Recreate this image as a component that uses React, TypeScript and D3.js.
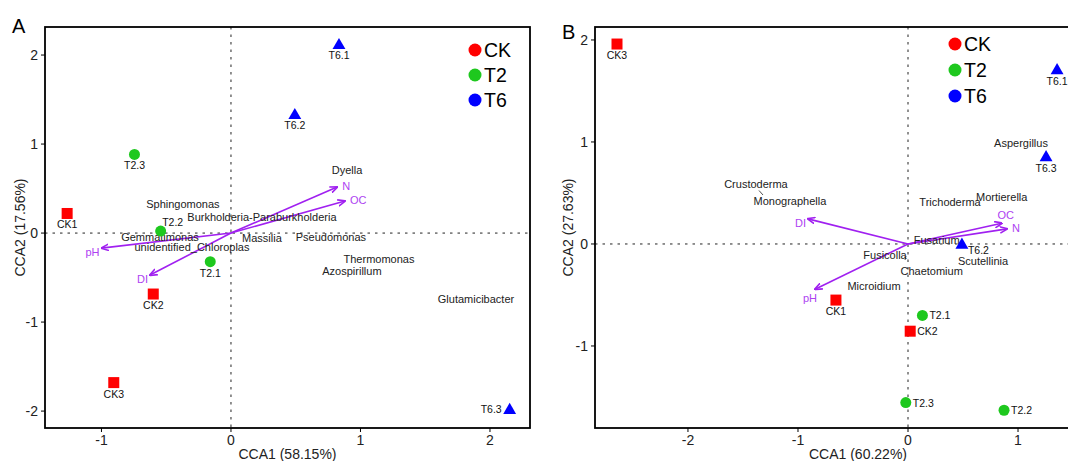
import React from "react"
import * as d3 from "d3"

// groups / legend
const groupNames = ["CK", "T2", "T6"]
const groupColors = ["#ff0000", "#1ec81e", "#0000ff"]
const groupShapes = ["square", "circle", "triangle"]

// panel A (bacteria)
const sampleNamesA = ["CK1", "CK2", "CK3", "T2.1", "T2.2", "T2.3", "T6.1", "T6.2", "T6.3"]
const sampleXA = [-1.265, -0.6, -0.905, -0.16, -0.543, -0.745, 0.834, 0.493, 2.152]
const sampleYA = [0.22, -0.685, -1.68, -0.322, 0.022, 0.884, 2.12, 1.334, -1.98]
const labelSideA = ["below", "below", "below", "below", "aboveRight", "below", "below", "below", "left"]

const speciesNamesA = ["Dyella", "Sphingomonas", "Burkholderia-Paraburkholderia", "Gemmatimonas",
  "unidentified_Chloroplas", "Massilia", "Pseudomonas", "Thermomonas", "Azospirillum", "Glutamicibacter"]
const speciesXA = [0.896, -0.371, 0.239, -0.548, -0.301, 0.239, 0.772, 1.143, 0.934, 1.892]
const speciesYA = [0.708, 0.326, 0.18, -0.045, -0.157, -0.056, -0.045, -0.292, -0.427, -0.742]

const envNamesA = ["N", "OC", "pH", "DI"]
const envXA = [0.82, 0.88, -1.0, -0.625]
const envYA = [0.517, 0.36, -0.169, -0.472]
const envSideA = ["right", "right", "left", "left"]

// panel B (fungi)
const sampleNamesB = ["CK1", "CK2", "CK3", "T2.1", "T2.2", "T2.3", "T6.1", "T6.2", "T6.3"]
const sampleXB = [-0.655, 0.02, -2.645, 0.131, 0.873, -0.02, 1.355, 0.49, 1.255]
const sampleYB = [-0.55, -0.855, 1.96, -0.70, -1.63, -1.555, 1.71, 0.0, 0.857]
const labelSideB = ["below", "right", "below", "right", "right", "right", "below", "belowRight", "below"]

const speciesNamesB = ["Crustoderma", "Monographella", "Trichoderma", "Mortierella", "Fusarium",
  "Fusicolla", "Scutellinia", "Chaetomium", "Microidium", "Aspergillus"]
const speciesXB = [-1.382, -1.073, 0.382, 0.852, 0.261, -0.209, 0.682, 0.215, -0.309, 1.027]
const speciesYB = [0.591, 0.417, 0.414, 0.46, 0.039, -0.108, -0.167, -0.263, -0.414, 0.992]

const envNamesB = ["DI", "pH", "OC", "N"]
const envXB = [-0.909, -0.845, 0.852, 0.9]
const envYB = [0.246, -0.443, 0.204, 0.148]
const envSideB = ["left", "belowLeft", "above", "right"]

const ticksA_x = [-1, 0, 1, 2]
const ticksA_y = [-2, -1, 0, 1, 2]
const ticksB_x = [-2, -1, 0, 1]
const ticksB_y = [-1, 0, 1, 2]

const font = "'Liberation Sans', Arial, sans-serif"
const purple = "#a020f0"

function groupOf(name) {
  if (name.startsWith("CK")) return 0
  if (name.startsWith("T2")) return 1
  return 2
}

function Marker({ x, y, g }) {
  const c = groupColors[g]
  if (groupShapes[g] === "square") return <rect x={x - 5.5} y={y - 5.5} width={11} height={11} fill={c} />
  if (groupShapes[g] === "circle") return <circle cx={x} cy={y} r={5.5} fill={c} />
  const tri = d3.symbol().type(d3.symbolTriangle).size(72)()
  return <path d={tri} transform={`translate(${x},${y + 1})`} fill={c} />
}

function sampleLabel(side, px, py, text, i) {
  let x = px, y = py, anchor = "middle"
  if (side === "below") { y = py + 15 }
  else if (side === "aboveRight") { x = px + 12; y = py - 5 }
  else if (side === "left") { x = px - 8; y = py + 4; anchor = "end" }
  else if (side === "right") { x = px + 7; y = py + 4; anchor = "start" }
  else if (side === "belowRight") { x = px + 6; y = py + 10; anchor = "start" }
  return <text key={"sl" + i} x={x} y={y} textAnchor={anchor} fontSize={10.5} fill="#111">{text}</text>
}

function envLabel(side, px, py, text, i) {
  let x = px, y = py, anchor = "start"
  if (side === "right") { x = px + 5; y = py + 3 }
  else if (side === "left") { x = px - 2; y = py + 8; anchor = "end" }
  else if (side === "belowLeft") { x = px - 5; y = py + 13; anchor = "middle" }
  else if (side === "above") { x = px + 4; y = py - 4; anchor = "middle" }
  return <text key={"el" + i} x={x} y={y} textAnchor={anchor} fontSize={11} fill={purple} style={{ opacity: 0.85 }}>{text}</text>
}

function Panel(p) {
  const x = d3.scaleLinear().domain(p.xDomain).range([p.left, p.right])
  const y = d3.scaleLinear().domain(p.yDomain).range([p.bottom, p.top])
  const clipId = "clip" + p.letter
  const markerId = "arr" + p.letter
  const midX = (p.left + p.right) / 2
  const midY = (p.top + p.bottom) / 2
  return (
    <g fontFamily={font}>
      <defs>
        <clipPath id={clipId}>
          <rect x={p.left} y={p.top} width={p.right - p.left} height={p.bottom - p.top} />
        </clipPath>
        <marker id={markerId} viewBox="0 0 10 10" refX="9" refY="5" markerWidth="5" markerHeight="5" orient="auto">
          <path d="M0,1 L10,5 L0,9" fill="none" stroke={purple} strokeWidth={2} />
        </marker>
      </defs>
      <text x={p.letterX} y={p.letterY} fontSize={20} fill="#000">{p.letter}</text>
      <g clipPath={`url(#${clipId})`}>
        <line x1={p.left} x2={p.right} y1={y(0)} y2={y(0)} stroke="#222" strokeDasharray="2.5,5" />
        <line x1={x(0)} x2={x(0)} y1={p.top} y2={p.bottom} stroke="#222" strokeDasharray="2.5,5" />
        {p.envNames.map((n, i) => (
          <line key={"ea" + i} x1={x(0)} y1={y(0)} x2={x(p.envX[i])} y2={y(p.envY[i])}
            stroke={purple} strokeWidth={1.6} markerEnd={`url(#${markerId})`} />
        ))}
        {p.envNames.map((n, i) => envLabel(p.envSide[i], x(p.envX[i]), y(p.envY[i]), n, i))}
        {p.speciesNames.map((n, i) => (
          <text key={"sp" + i} x={x(p.speciesX[i])} y={y(p.speciesY[i])} textAnchor="middle"
            dominantBaseline="central" fontSize={11} fill="#222">{n}</text>
        ))}
        {p.extra}
        {p.sampleNames.map((n, i) => (
          <Marker key={"m" + i} x={x(p.sampleX[i])} y={y(p.sampleY[i])} g={groupOf(n)} />
        ))}
        {p.sampleNames.map((n, i) => sampleLabel(p.labelSide[i], x(p.sampleX[i]), y(p.sampleY[i]), n, i))}
        {groupNames.map((g, i) => (
          <g key={"lg" + i}>
            <circle cx={p.legendX} cy={p.legendY + i * p.legendStep} r={6.5} fill={groupColors[i]} />
            <text x={p.legendX + 9} y={p.legendY + i * p.legendStep + 7} fontSize={19.5} fill="#000">{g}</text>
          </g>
        ))}
      </g>
      <rect x={p.left} y={p.top} width={p.right - p.left} height={p.bottom - p.top} fill="none" stroke="#000" strokeWidth={1.8} />
      {p.xTicks.map(t => (
        <g key={"xt" + t}>
          <line x1={x(t)} x2={x(t)} y1={p.bottom} y2={p.bottom + 4} stroke="#000" />
          <text x={x(t)} y={p.bottom + 17} textAnchor="middle" fontSize={14} fill="#222">{t}</text>
        </g>
      ))}
      {p.yTicks.map(t => (
        <g key={"yt" + t}>
          <line x1={p.left - 4} x2={p.left} y1={y(t)} y2={y(t)} stroke="#000" />
          <text x={p.left - 7} y={y(t) + 5} textAnchor="end" fontSize={14} fill="#222">{t}</text>
        </g>
      ))}
      <text x={midX} y={p.bottom + 31} textAnchor="middle" fontSize={14} fill="#222">{p.xTitle}</text>
      <text transform={`translate(${p.yTitleX},${midY}) rotate(-90)`} textAnchor="middle" fontSize={14} fill="#222">{p.yTitle}</text>
    </g>
  )
}

export default function App() {
  const leader = (
    <g>
      <line x1={759} y1={190.5} x2={763} y2={195} stroke="#222" strokeWidth={0.8} />
      <line x1={906} y1={256} x2={905} y2={260} stroke="#222" strokeWidth={0.8} />
    </g>
  )
  return (
    <div style={{ position: "absolute", left: 0, top: 0 }}>
      <svg width={1068} height={461} style={{ display: "block", background: "#fff" }}>
        <Panel letter="A" letterX={12} letterY={33}
          left={45} right={530} top={27} bottom={428}
          xDomain={[-1.436, 2.309]} yDomain={[-2.19, 2.315]}
          xTicks={ticksA_x} yTicks={ticksA_y}
          xTitle="CCA1 (58.15%)" yTitle="CCA2 (17.56%)" yTitleX={25}
          sampleNames={sampleNamesA} sampleX={sampleXA} sampleY={sampleYA} labelSide={labelSideA}
          speciesNames={speciesNamesA} speciesX={speciesXA} speciesY={speciesYA}
          envNames={envNamesA} envX={envXA} envY={envYA} envSide={envSideA}
          legendX={475} legendY={50} legendStep={25} />
        <Panel letter="B" letterX={562} letterY={39}
          left={595} right={1121} top={27} bottom={428}
          xDomain={[-2.845, 1.936]} yDomain={[-1.804, 2.127]}
          xTicks={ticksB_x} yTicks={ticksB_y}
          xTitle="CCA1 (60.22%)" yTitle="CCA2 (27.63%)" yTitleX={573}
          sampleNames={sampleNamesB} sampleX={sampleXB} sampleY={sampleYB} labelSide={labelSideB}
          speciesNames={speciesNamesB} speciesX={speciesXB} speciesY={speciesYB}
          envNames={envNamesB} envX={envXB} envY={envYB} envSide={envSideB}
          legendX={955} legendY={44} legendStep={26} extra={leader} />
      </svg>
    </div>
  )
}
